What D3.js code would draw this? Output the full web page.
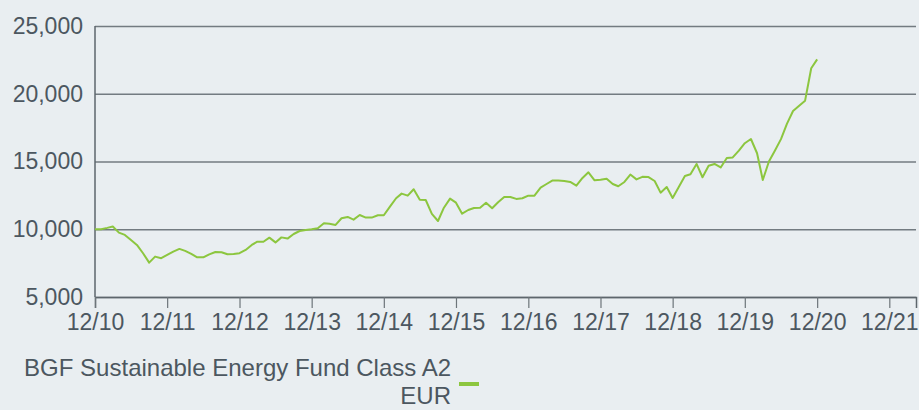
<!DOCTYPE html>
<html>
<head>
<meta charset="utf-8">
<script src="https://cdn.jsdelivr.net/npm/d3@7"></script>
<style>
  html, body { margin: 0; padding: 0; background: #e9eef1; }
  body { width: 919px; height: 410px; overflow: hidden; }
  text { font-family: "Liberation Sans", Arial, sans-serif; fill: #4c5760; }
</style>
</head>
<body>
<div id="chart"></div>
<script>
// series: monthly values, first point = 12/10
let startMonth = new Date(2010, 11, 1)
let fundValues = [
    10000, 10000, 10100, 10200, 9750, 9580, 9210, 8840, 8230, 7540,
    7980, 7860, 8100, 8350, 8550, 8400, 8180, 7930, 7930, 8150,
    8320, 8300, 8150, 8180, 8230, 8470, 8840, 9080, 9080, 9380,
    9030, 9400, 9310, 9650, 9870, 9950, 10000, 10070, 10440, 10410,
    10320, 10810, 10910, 10710, 11050, 10860, 10860, 11030, 11030, 11670,
    12290, 12630, 12480, 12950, 12180, 12160, 11130, 10610, 11590, 12260,
    11960, 11150, 11420, 11570, 11590, 11960, 11550, 11990, 12380, 12380,
    12240, 12290, 12480, 12480, 13070, 13320, 13590, 13590, 13560, 13490,
    13220, 13790, 14200, 13610, 13660, 13730, 13340, 13170, 13490, 14040,
    13680, 13870, 13850, 13560, 12700, 13120, 12310, 13120, 13930, 14060,
    14820, 13840, 14690, 14820, 14560, 15260, 15300, 15800, 16350, 16660,
    15610, 13640, 15000, 15800, 16650, 17780, 18730, 19120, 19490, 21880,
    22540
]
let yTicks = [5000, 10000, 15000, 20000, 25000]
let xTickLabels = ["12/10", "12/11", "12/12", "12/13", "12/14", "12/15",
    "12/16", "12/17", "12/18", "12/19", "12/20", "12/21"]
let seriesName = ["BGF Sustainable Energy Fund Class A2", "EUR"]

let width = 919,
    height = 410
let margin = { top: 26, right: 3, bottom: 113, left: 95 }

let svg = d3.select("#chart")
    .append("svg")
    .attr("width", width)
    .attr("height", height)

let g = svg.append("g")
    .attr("transform", "translate(" + margin.left + "," + margin.top + ")")

let innerW = width - margin.left - margin.right,
    innerH = height - margin.top - margin.bottom

// x: time, one tick each december
let xTickDates = xTickLabels.map((l, i) => d3.timeYear.offset(startMonth, i))
let x = d3.scaleTime()
    .domain([startMonth, new Date(2022, 3, 15)])
    .range([0, innerW])

let y = d3.scaleLinear()
    .domain([5000, 25000])
    .range([innerH, 0])

/////////////////////////////////////////////////////////////////////////////////////
//grid lines + y labels
let yAxis = g.append("g")
    .attr("class", "yAxis")
    .call(d3.axisLeft(y)
        .tickValues(yTicks)
        .tickSize(-innerW)
        .tickPadding(12)
        .tickFormat(d3.format(",")))
yAxis.select(".domain").remove()
yAxis.selectAll("line")
    .attr("stroke", "#737b81")
    .attr("stroke-width", 1.5)
yAxis.selectAll("text")
    .style("font-size", "23px")
    .attr("fill", "#4c5760")

// left vertical line
g.append("line")
    .attr("x1", 0).attr("x2", 0)
    .attr("y1", y(25000)).attr("y2", innerH)
    .attr("stroke", "#5d666c")
    .attr("stroke-width", 1.5)

/////////////////////////////////////////////////////////////////////////////////////
//x axis
let xAxis = g.append("g")
    .attr("class", "xAxis")
    .attr("transform", "translate(0," + innerH + ")")
    .call(d3.axisBottom(x)
        .tickValues(xTickDates)
        .tickSize(11)
        .tickPadding(6)
        .tickFormat((d, i) => xTickLabels[i]))
xAxis.select(".domain")
    .attr("stroke", "#5d666c")
    .attr("stroke-width", 1.5)
xAxis.selectAll("line")
    .attr("stroke", "#6d757a")
    .attr("stroke-width", 1.2)
xAxis.selectAll("text")
    .style("font-size", "23px")
    .attr("fill", "#4c5760")

/////////////////////////////////////////////////////////////////////////////////////
//fund line
let line = d3.line()
    .x((d, i) => x(d3.timeMonth.offset(startMonth, i)))
    .y(d => y(d))

g.append("path")
    .datum(fundValues)
    .attr("d", line)
    .attr("fill", "none")
    .attr("stroke", "#8cc63f")
    .attr("stroke-width", 2)
    .attr("stroke-linejoin", "round")

/////////////////////////////////////////////////////////////////////////////////////
//legend
let legend = svg.append("g").attr("class", "legend")
legend.selectAll("text")
    .data(seriesName)
    .join("text")
    .attr("x", 451)
    .attr("y", (d, i) => 376 + i * 28)
    .attr("text-anchor", "end")
    .style("font-size", "24px")
    .attr("fill", "#4b5862")
    .text(d => d)
legend.append("rect")
    .attr("x", 459)
    .attr("y", 382)
    .attr("width", 20)
    .attr("height", 4)
    .attr("fill", "#8cc63f")
</script>
</body>
</html>
